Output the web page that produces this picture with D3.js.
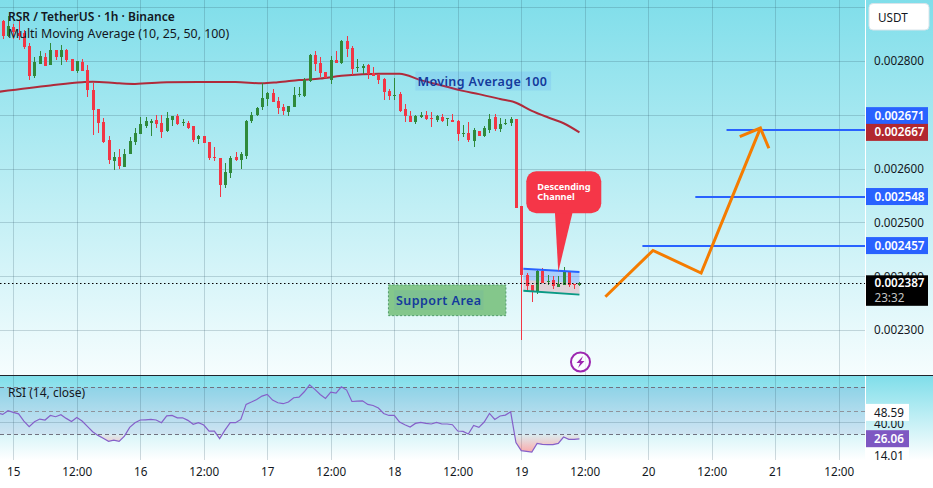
<!DOCTYPE html>
<html>
<head>
<meta charset="utf-8">
<title>RSR / TetherUS</title>
<script src="https://cdn.jsdelivr.net/npm/d3@7/dist/d3.min.js"></script>
<style>
  html, body { margin: 0; padding: 0; background: #fff; overflow: hidden; }
  svg { display: block; font-family: "Noto Sans", sans-serif; }
  text { fill: #131722; }
</style>
</head>
<body>
<svg id="chart" width="933" height="488"></svg>
<script>
// Candles are hourly, starting two hours before the 15th. Prices in millionths of a USDT.
const firstCandleHour = -2;
const opens = [
  2874,2846,2863,2851,2851,2828,2772,2794,2807,2792,
  2820,2807,2820,2803,2781,2798,2783,2746,2710,2686,
  2653,2614,2621,2603,2627,2649,2664,2679,2685,2690,
  2684,2670,2690,2697,2685,2684,2679,2655,2661,2649,
  2621,2620,2569,2592,2621,2616,2623,2688,2699,2714,
  2729,2740,2725,2714,2705,2715,2736,2735,2763,2811,
  2796,2779,2764,2801,2796,2837,2824,2786,2786,2792,
  2777,2773,2766,2744,2734,2738,2710,2697,2687,2696,
  2699,2694,2690,2696,2692,2690,2688,2664,2666,2651,
  2670,2660,2671,2696,2673,2683,2684,2692,2530,2402,
  2384,2370,2409,2390,2393,2381,2384,2409,2386,2383
];
const closes = [
  2845,2864,2853,2846,2826,2772,2798,2809,2791,2820,
  2806,2820,2801,2781,2799,2781,2746,2709,2685,2650,
  2616,2621,2605,2627,2651,2666,2683,2689,2689,2683,
  2668,2694,2697,2683,2687,2675,2653,2660,2647,2620,
  2620,2569,2594,2620,2616,2627,2688,2699,2712,2731,
  2740,2723,2712,2707,2716,2736,2738,2764,2811,2794,
  2777,2767,2801,2796,2837,2822,2785,2788,2790,2775,
  2772,2764,2742,2734,2736,2707,2697,2687,2697,2699,
  2692,2692,2697,2688,2693,2686,2664,2666,2653,2671,
  2660,2675,2692,2673,2683,2684,2692,2527,2402,2382,
  2373,2409,2388,2391,2382,2386,2409,2384,2384,2387
];
const highs = [
  2875,2883,2868,2874,2857,2832,2807,2818,2814,2833,
  2820,2829,2822,2804,2799,2803,2792,2759,2710,2694,
  2660,2631,2636,2636,2659,2675,2696,2696,2692,2699,
  2699,2705,2697,2701,2692,2688,2679,2662,2661,2649,
  2640,2620,2610,2623,2631,2631,2690,2705,2714,2759,
  2742,2747,2733,2720,2716,2752,2751,2768,2812,2818,
  2807,2779,2809,2818,2838,2846,2827,2803,2794,2794,
  2788,2775,2768,2748,2768,2742,2720,2707,2699,2705,
  2707,2705,2699,2701,2694,2701,2690,2681,2686,2675,
  2670,2679,2701,2701,2694,2692,2696,2692,2530,2406,
  2384,2414,2415,2402,2401,2401,2417,2409,2386,2389
];
const lows = [
  2841,2844,2840,2838,2822,2764,2768,2794,2790,2792,
  2801,2792,2798,2781,2777,2780,2733,2662,2666,2648,
  2608,2598,2600,2603,2627,2644,2664,2676,2661,2676,
  2657,2668,2679,2681,2679,2673,2649,2645,2647,2616,
  2614,2547,2564,2582,2614,2599,2618,2684,2698,2709,
  2716,2723,2701,2699,2697,2715,2733,2733,2761,2781,
  2769,2767,2757,2796,2794,2807,2773,2779,2775,2766,
  2772,2757,2727,2727,2727,2705,2686,2687,2683,2694,
  2690,2677,2686,2686,2679,2686,2651,2658,2649,2640,
  2660,2658,2666,2670,2668,2681,2679,2527,2281,2372,
  2353,2367,2387,2383,2376,2381,2383,2381,2376,2382
];

// 100-period moving average, sampled at selected hours
const maHours = [-3,7,13,15,20,23,29,35,42,47,50,54,58,62,66,69,73,77,81,85,88,92,95,98,101,104,107];
const maValues = [2742,2754,2760,2761,2758,2757,2760,2760.5,2760.5,2758,2760,2764,2767,2772,2775,2776,2776,2764,2754,2744,2738,2729,2722,2707,2695,2684,2667];

// RSI(14), hourly from three hours before the 15th
const firstRsiHour = -3;
const rsiValues = [
  48.3,46.9,50,48.6,47.4,41.2,36.4,40.6,42.9,42.1,46,44.9,46.6,43.5,40.9,44.3,41.2,36.7,32.1,29,
  26.5,23.9,25,23.9,28.4,35.8,39.8,42.1,42.3,42.6,42.1,39.8,45.7,46,44,44,41.8,38.4,39.8,37.8,
  32.7,32.7,26.2,33.5,39.8,39.8,42.6,55.4,57.4,59.6,62.5,63.9,59.1,56.8,56,57.4,61.1,61.6,66.2,72.1,
  68.2,63.9,60.5,65.9,65,70.4,67.6,57.9,58.2,58.5,55.4,54.5,52.3,47.7,46,46,40.4,38.1,36.1,39.2,
  40.1,39.2,38.7,40.1,38.7,38.7,38.1,32.7,32.4,30.1,37.5,35.8,40.4,47.7,42.6,45.5,46.3,49.1,22.8,16,
  15.4,14.8,22.2,21.3,21.1,21.1,22.2,27.6,25.6,25.6,26.06
];

// Axis contents
const priceTicks = [2900,2800,2700,2600,2500,2400,2300];
const priceLabels = [2800,2600,2500,2400,2300];
const timeTickHours = [0,12,24,36,48,60,72,84,96,108,120,132,144,156];
const timeTickLabels = ["15","12:00","16","12:00","17","12:00","18","12:00","19","12:00","20","12:00","21","12:00"];

// Target levels: price and the hour each level starts at
const targetPrices = [2457,2548,2671];
const targetStartHours = [118.9,128.9,134.8];
const lastPrice = 2387;
const maLast = 2667;

// Projected path and its arrow head
const pathHours = [111.9,120.9,130,141.2];
const pathPrices = [2362,2448,2406,2675];
const arrowHours = [137.3,141.2,142.8];
const arrowPrices = [2659,2675,2637.5];

// Descending channel edges at its two ends
const channelHours = [96.4,107];
const channelTop = [2414,2408];
const channelMid = [2393,2387];
const channelBottom = [2373,2366];

// Layout of the panes
const W = 933, plotRight = 865, mainBottom = 375, rsiTop = 376, rsiBottom = 460;

const hourDate = h => new Date(Date.UTC(2024, 0, 15) + h * 3600000);
const x = d3.scaleUtc().domain([hourDate(0), hourDate(156)]).range([13.3, 838.7]);
const y = d3.scaleLinear().domain([2300, 2800]).range([330.2, 60.7]);
const yRsi = d3.scaleLinear().domain([30, 70]).range([434.2, 387.3]);
const xh = h => x(hourDate(h));
const priceText = v => (v / 1e6).toFixed(6);

const svg = d3.select("#chart");
const defs = svg.append("defs");

function vGradient(id, stops, y1, y2) {
  const g = defs.append("linearGradient").attr("id", id)
    .attr("gradientUnits", "userSpaceOnUse")
    .attr("x1", 0).attr("x2", 0).attr("y1", y1).attr("y2", y2);
  stops.forEach(s => g.append("stop").attr("offset", s[0]).attr("stop-color", s[1]).attr("stop-opacity", s[2]));
}
vGradient("bgMain", [[0, "#80deea", 1], [1, "#f6fdfe", 1]], 0, mainBottom);
vGradient("bgRsi", [[0, "#80deea", 1], [1, "#ffffff", 1]], rsiTop, rsiBottom);
vGradient("oversold", [[0, "#ff5252", 0.05], [1, "#ff5252", 0.5]], yRsi(30), yRsi(14));
vGradient("overbought", [[0, "#4caf50", 0.25], [1, "#4caf50", 0.02]], yRsi(75), yRsi(70));

defs.append("clipPath").attr("id", "mainClip").append("rect")
  .attr("x", 0).attr("y", 0).attr("width", plotRight).attr("height", mainBottom);
defs.append("clipPath").attr("id", "below30").append("rect")
  .attr("x", 0).attr("y", yRsi(30)).attr("width", plotRight).attr("height", rsiBottom - yRsi(30));
defs.append("clipPath").attr("id", "above70").append("rect")
  .attr("x", 0).attr("y", rsiTop).attr("width", plotRight).attr("height", yRsi(70) - rsiTop);

// Pane backgrounds
svg.append("rect").attr("width", W).attr("height", mainBottom).attr("fill", "url(#bgMain)");
svg.append("rect").attr("y", rsiTop).attr("width", W).attr("height", rsiBottom - rsiTop).attr("fill", "url(#bgRsi)");

// Grid
const gridColor = "rgba(45,80,100,0.22)";
const grid = svg.append("g").attr("fill", "none").attr("stroke", gridColor);
grid.selectAll("line.v").data(timeTickHours).join("line")
  .attr("x1", h => Math.round(xh(h)) + 0.5).attr("x2", h => Math.round(xh(h)) + 0.5)
  .attr("y1", 0).attr("y2", mainBottom);
grid.selectAll("line.h").data(priceTicks).join("line")
  .attr("x1", 0).attr("x2", plotRight)
  .attr("y1", d => Math.round(y(d)) + 0.5).attr("y2", d => Math.round(y(d)) + 0.5);

const main = svg.append("g").attr("clip-path", "url(#mainClip)");

// Moving average
const maLine = d3.line().x((d, i) => xh(maHours[i])).y(d => y(d)).curve(d3.curveMonotoneX);
main.append("path").datum(maValues).attr("d", maLine)
  .attr("fill", "none").attr("stroke", "#b02a3a").attr("stroke-width", 2);

// Support zone
const supportHours = [70.9, 93.1], supportPrices = [2384, 2327];
main.append("rect")
  .attr("x", xh(supportHours[0])).attr("y", y(supportPrices[0]))
  .attr("width", xh(supportHours[1]) - xh(supportHours[0]))
  .attr("height", y(supportPrices[1]) - y(supportPrices[0]))
  .attr("fill", "#84c78b").attr("stroke", "#4f9a68").attr("stroke-dasharray", "2 2");

// Descending channel
const band = (upper, lower, fill) => main.append("path")
  .attr("d", d3.area().x((d, i) => xh(channelHours[i])).y0((d, i) => y(lower[i])).y1((d, i) => y(upper[i]))(channelHours))
  .attr("fill", fill);
band(channelTop, channelMid, "rgba(70,120,255,0.30)");
band(channelMid, channelBottom, "rgba(242,80,100,0.22)");
const edge = (vals, color) => main.append("path").datum(vals)
  .attr("d", d3.line().x((d, i) => xh(channelHours[i])).y(d => y(d)))
  .attr("fill", "none").attr("stroke", color).attr("stroke-width", 2);

// Candles
const green = "#2f8a3b", red = "#f23645";
const candles = d3.range(opens.length).map(i => ({
  hour: firstCandleHour + i, open: opens[i], high: highs[i], low: lows[i], close: closes[i]
}));
const candleG = main.append("g").selectAll("g").data(candles).join("g")
  .attr("fill", d => d.close >= d.open ? green : red);
candleG.append("rect")
  .attr("x", d => Math.round(xh(d.hour)))
  .attr("width", 1)
  .attr("y", d => Math.round(y(d.high)))
  .attr("height", d => Math.max(1, Math.round(y(d.low)) - Math.round(y(d.high))));
candleG.append("rect")
  .attr("x", d => Math.round(xh(d.hour)) - 1)
  .attr("width", 3)
  .attr("y", d => Math.round(y(Math.max(d.open, d.close))))
  .attr("height", d => Math.max(1, Math.round(y(Math.min(d.open, d.close))) - Math.round(y(Math.max(d.open, d.close)))));

edge(channelTop, "#2962ff");
edge(channelBottom, "#0a9a85");

// Target levels
main.selectAll("line.target").data(targetPrices).join("line")
  .attr("x1", (d, i) => xh(targetStartHours[i])).attr("x2", plotRight)
  .attr("y1", d => Math.round(y(d))).attr("y2", d => Math.round(y(d)))
  .attr("stroke", "#2962ff").attr("stroke-width", 2);

// Last price
svg.append("line").attr("x1", 0).attr("x2", plotRight)
  .attr("y1", Math.round(y(lastPrice)) + 0.5).attr("y2", Math.round(y(lastPrice)) + 0.5)
  .attr("stroke", "#000").attr("stroke-dasharray", "1.5 2.5");

// Projected path
const pLine = hs => d3.line().x((d, i) => xh(hs[i])).y(d => y(d));
const orange = main.append("g").attr("fill", "none").attr("stroke", "#f57c00").attr("stroke-width", 3)
  .attr("stroke-linejoin", "miter");
orange.append("path").attr("d", pLine(pathHours)(pathPrices));
orange.append("path").attr("d", pLine(arrowHours)(arrowPrices));

// Callout for the channel
const tipX = xh(103), tipY = y(2408);
const cLeft = tipX - 32, cRight = tipX + 43, cTop = tipY - 100.7, cBottom = tipY - 58.7;
main.append("path").attr("fill", "#f53648").attr("d",
  `M${tipX - 3.4},${cBottom - 2}L${tipX},${tipY}L${tipX + 14.6},${cBottom - 2}Z`);
main.append("rect").attr("x", cLeft).attr("y", cTop).attr("width", cRight - cLeft).attr("height", cBottom - cTop)
  .attr("rx", 10).attr("fill", "#f53648");
main.append("g").selectAll("text").data(["Descending", "Channel"]).join("text")
  .attr("x", cLeft + 11).attr("y", (d, i) => cTop + 19 + i * 10.2)
  .attr("font-size", 9.2).attr("font-weight", 700).style("fill", "#fff").text(d => d);

// Text labels on the drawing
main.append("rect").attr("x", 394).attr("y", y(2374)).attr("width", 89.5).attr("height", 19.5)
  .attr("fill", "rgba(41,98,255,0.06)");
main.append("text").attr("x", 396).attr("y", y(2355)).attr("dy", "0.35em")
  .attr("font-size", 12.5).attr("font-weight", 600).attr("letter-spacing", 0.45)
  .style("fill", "#143a9c").text("Support Area");
main.append("rect").attr("x", xh(76)).attr("y", y(2780)).attr("width", 135.7).attr("height", 19)
  .attr("fill", "rgba(41,98,255,0.10)");
main.append("text").attr("x", xh(76) + 2).attr("y", y(2761)).attr("dy", "0.35em")
  .attr("font-size", 12.5).attr("font-weight", 600).attr("letter-spacing", 0.36)
  .style("fill", "#143a9c").text("Moving Average 100");

// Flash badge
const badge = main.append("g").attr("transform", `translate(${xh(107.2)},${y(2241)})`);
badge.append("circle").attr("r", 9.5).attr("fill", "#fff").attr("fill-opacity", 0.6)
  .attr("stroke", "#9c27b0").attr("stroke-width", 2);
badge.append("path").attr("d", "M2.5,-6 L-4,1 L-0.5,1 L-2.5,6 L4,-1 L0.5,-1 Z").attr("fill", "#9c27b0");

// Legend text
svg.append("text").attr("x", 8).attr("y", 17).attr("dy", "0.35em")
  .attr("font-size", 12).attr("font-weight", 600).text("RSR / TetherUS · 1h · Binance");
svg.append("text").attr("x", 8).attr("y", 33.5).attr("dy", "0.35em")
  .attr("font-size", 12.4).text("Multi Moving Average (10, 25, 50, 100)");

// RSI pane
const rsiG = svg.append("g");
rsiG.append("rect").attr("x", 0).attr("y", yRsi(70)).attr("width", plotRight).attr("height", yRsi(30) - yRsi(70))
  .attr("fill", "rgba(126,87,194,0.11)");
rsiG.selectAll("line.grid").data(timeTickHours).join("line")
  .attr("x1", h => Math.round(xh(h)) + 0.5).attr("x2", h => Math.round(xh(h)) + 0.5)
  .attr("y1", rsiTop).attr("y2", rsiBottom).attr("stroke", gridColor);
rsiG.append("line").attr("x1", 0).attr("x2", plotRight)
  .attr("y1", Math.round(yRsi(40)) + 0.5).attr("y2", Math.round(yRsi(40)) + 0.5).attr("stroke", gridColor);
rsiG.selectAll("line.level").data([70, 50, 30]).join("line")
  .attr("x1", 0).attr("x2", plotRight)
  .attr("y1", d => Math.round(yRsi(d)) + 0.5).attr("y2", d => Math.round(yRsi(d)) + 0.5)
  .attr("stroke", d => d === 50 ? "#8f939c" : "#6f7280").attr("stroke-dasharray", "4 3");

const rsiHour = i => firstRsiHour + i;
const toBase = level => d3.area().x((d, i) => xh(rsiHour(i))).y0(yRsi(level)).y1(d => yRsi(d));
rsiG.append("path").attr("clip-path", "url(#below30)").attr("d", toBase(30)(rsiValues)).attr("fill", "url(#oversold)");
rsiG.append("path").attr("clip-path", "url(#above70)").attr("d", toBase(70)(rsiValues)).attr("fill", "url(#overbought)");
rsiG.append("path").attr("d", d3.line().x((d, i) => xh(rsiHour(i))).y(d => yRsi(d))(rsiValues))
  .attr("fill", "none").attr("stroke", "#8560c9").attr("stroke-width", 1.2);
svg.append("text").attr("x", 8).attr("y", 392.5).attr("dy", "0.35em")
  .attr("font-size", 12).text("RSI (14, close)");

// Pane separators
svg.append("line").attr("x1", plotRight + 0.5).attr("x2", plotRight + 0.5).attr("y1", 0).attr("y2", rsiBottom)
  .attr("stroke", "#fff");
svg.append("line").attr("x1", 0).attr("x2", W).attr("y1", 375.5).attr("y2", 375.5).attr("stroke", "#20242c");

// Price axis
const priceAxis = svg.append("g").attr("transform", `translate(${plotRight},0)`)
  .call(d3.axisRight(y).tickValues(priceLabels).tickFormat(priceText).tickSize(0).tickPadding(9));
priceAxis.select(".domain").remove();
priceAxis.selectAll("text").attr("font-size", 11.7).attr("font-family", '"Noto Sans", sans-serif');

// Currency button
svg.append("rect").attr("x", 869).attr("y", 3.5).attr("width", 60).attr("height", 26.5).attr("rx", 4)
  .attr("fill", "#fff").attr("stroke", "#d8e4ea");
svg.append("text").attr("x", 878).attr("y", 17.5).attr("dy", "0.35em").attr("font-size", 11.7).text("USDT");

// Price tags; the two nearest levels are pushed apart so both stay readable
const tagValues = [2457, 2548, 2671, maLast];
const tagOffsets = [0, 0, -14.6, 0];
const tagFills = ["#2962ff", "#2962ff", "#2962ff", "#b2282f"];
const tags = svg.append("g").selectAll("g").data(tagValues).join("g")
  .attr("transform", (d, i) => `translate(866,${y(d) + tagOffsets[i]})`);
tags.append("rect").attr("y", -8.5).attr("width", 62).attr("height", 17).attr("fill", (d, i) => tagFills[i]);
tags.append("text").attr("x", 8.5).attr("dy", "0.35em").attr("font-size", 11.7).attr("font-weight", 600)
  .style("fill", "#fff").text(priceText);

// Last price tag with countdown
const lastY = y(lastPrice);
svg.append("rect").attr("x", 866).attr("y", lastY - 8).attr("width", 62).attr("height", 30.5).attr("fill", "#000");
svg.append("text").attr("x", 874.5).attr("y", lastY).attr("dy", "0.35em").attr("font-size", 11.7).attr("font-weight", 600)
  .style("fill", "#fff").text(priceText(lastPrice));
svg.append("text").attr("x", 874.5).attr("y", lastY + 14.5).attr("dy", "0.35em").attr("font-size", 11.7)
  .style("fill", "#c4c4c4").text("23:32");

// RSI axis labels
const rsiLabelValues = [14.01, 40, 48.59, 26.06];
const rsiLabelCenters = [456, yRsi(40) + 1, 412.4, 438.7];
const rsiLabelFills = ["#fff", "none", "#fff", "#7e57c2"];
const rsiLabels = svg.append("g").selectAll("g").data(rsiLabelValues).join("g")
  .attr("transform", (d, i) => `translate(866,${rsiLabelCenters[i]})`);
rsiLabels.append("rect").attr("y", (d, i) => i === 0 ? -9 : -8.5).attr("width", 43).attr("height", (d, i) => i === 0 ? 13 : 17)
  .attr("fill", (d, i) => rsiLabelFills[i]);
rsiLabels.append("text").attr("x", 8).attr("dy", "0.35em").attr("font-size", 11.7)
  .style("fill", d => d === 26.06 ? "#fff" : "#131722").attr("font-weight", d => d === 26.06 ? 600 : 400)
  .text(d => d.toFixed(2));

// Time axis
const timeAxis = svg.append("g").attr("transform", `translate(0,${rsiBottom})`)
  .call(d3.axisBottom(x).tickValues(timeTickHours.map(hourDate))
    .tickFormat((d, i) => timeTickLabels[i]).tickSize(0).tickPadding(8));
timeAxis.select(".domain").remove();
timeAxis.selectAll("text").attr("font-size", 11.7).attr("font-family", '"Noto Sans", sans-serif');
</script>
</body>
</html>
